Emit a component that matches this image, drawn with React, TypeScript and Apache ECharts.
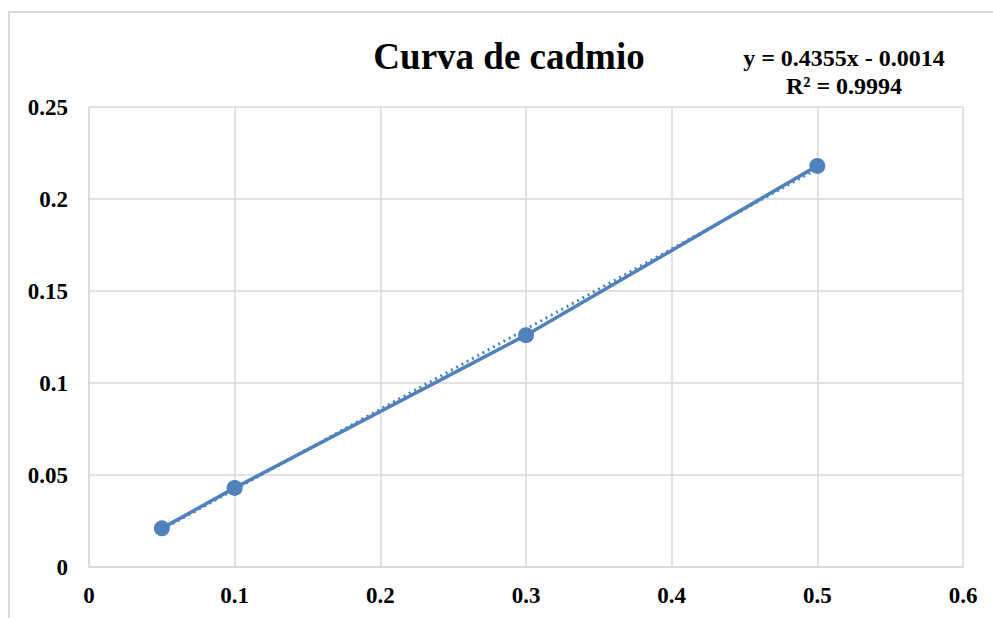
import React, { useEffect, useRef } from "react";
import * as echarts from "echarts";

const xValues = [0.05, 0.1, 0.3, 0.5];
const yValues = [0.021, 0.043, 0.126, 0.218];
const trendX = [0.05, 0.5];
const trendY = [0.0204, 0.2164];
const titleText = "Curva de cadmio";
const equationLines = ["y = 0.4355x - 0.0014", "R² = 0.9994"];

const FONT = "'Liberation Serif', 'Times New Roman', serif";
const BLUE = "#4F81BD";
const GRID = "#D9D9D9";

export default function App() {
  const ref = useRef<HTMLDivElement>(null);
  useEffect(() => {
    if (!ref.current) return;
    const chart = echarts.init(ref.current, undefined, { renderer: "svg" });
    chart.setOption({
      animation: false,
      backgroundColor: "#ffffff",
      grid: { left: 89, right: 30, top: 107, bottom: 51 },
      xAxis: {
        type: "value",
        min: 0,
        max: 0.6,
        interval: 0.1,
        axisLine: { show: true, lineStyle: { color: GRID, width: 1.5 } },
        axisTick: { show: false },
        splitLine: { show: true, lineStyle: { color: GRID, width: 1.5 } },
        axisLabel: {
          color: "#000",
          fontFamily: FONT,
          fontWeight: "bold",
          fontSize: 23,
          margin: 17,
        },
      },
      yAxis: {
        type: "value",
        min: 0,
        max: 0.25,
        interval: 0.05,
        axisLine: { show: true, lineStyle: { color: GRID, width: 1.5 } },
        axisTick: { show: false },
        splitLine: { show: true, lineStyle: { color: GRID, width: 1.5 } },
        axisLabel: {
          color: "#000",
          fontFamily: FONT,
          fontWeight: "bold",
          fontSize: 23,
          margin: 21,
        },
      },
      series: [
        {
          type: "line",
          data: trendX.map((x, i) => [x, trendY[i]]),
          showSymbol: false,
          symbol: "none",
          lineStyle: { color: BLUE, width: 3, type: [2, 4] },
          z: 2,
        },
        {
          type: "line",
          data: xValues.map((x, i) => [x, yValues[i]]),
          symbol: "circle",
          symbolSize: 16,
          itemStyle: { color: BLUE },
          lineStyle: { color: BLUE, width: 3.5 },
          z: 3,
        },
      ],
      graphic: [
        {
          type: "rect",
          shape: { x: 9, y: 12, width: 1000, height: 700 },
          style: { fill: "none", stroke: GRID, lineWidth: 2 },
          silent: true,
          z: -1,
        },
        {
          type: "text",
          x: 509,
          y: 56,
          style: {
            text: titleText,
            fontFamily: FONT,
            fontWeight: "bold",
            fontSize: 37,
            fill: "#000",
            align: "center",
            verticalAlign: "middle",
          },
        },
        {
          type: "text",
          x: 844,
          y: 58,
          style: {
            text: equationLines[0],
            fontFamily: FONT,
            fontWeight: "bold",
            fontSize: 24,
            fill: "#000",
            align: "center",
            verticalAlign: "middle",
          },
        },
        {
          type: "text",
          x: 844,
          y: 86,
          style: {
            text: equationLines[1],
            fontFamily: FONT,
            fontWeight: "bold",
            fontSize: 24,
            fill: "#000",
            align: "center",
            verticalAlign: "middle",
          },
        },
      ],
    });
    return () => chart.dispose();
  }, []);
  return (
    <div
      ref={ref}
      style={{ position: "fixed", left: 0, top: 0, width: 993, height: 618 }}
    />
  );
}
